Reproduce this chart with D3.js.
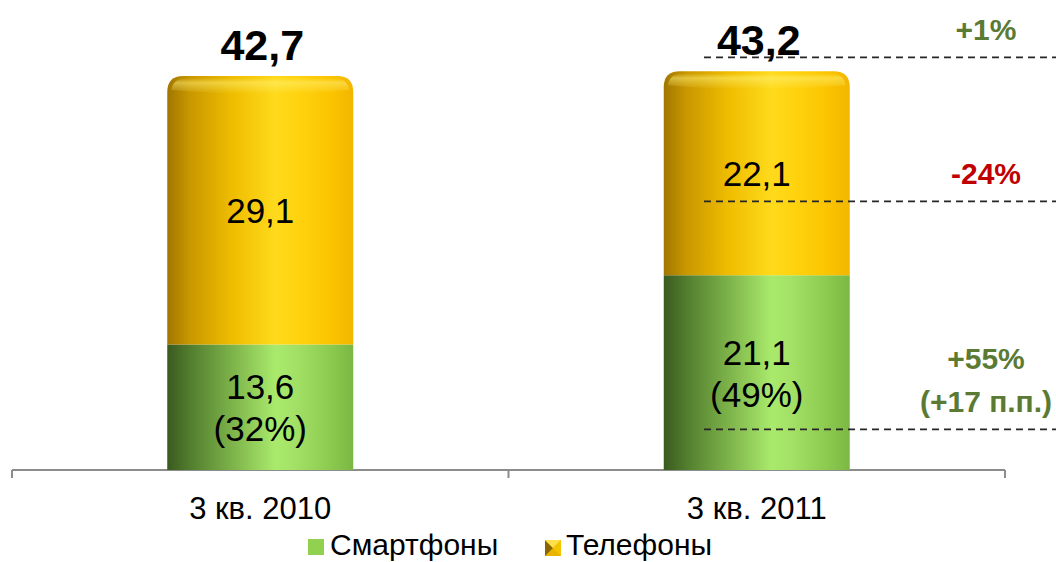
<!DOCTYPE html>
<html>
<head>
<meta charset="utf-8">
<script src="https://cdn.jsdelivr.net/npm/d3@7"></script>
<style>
  body { margin: 0; background: #fff; }
  svg { display: block; font-family: "Liberation Sans", Arial, sans-serif; }
</style>
</head>
<body>
<svg width="1056" height="562"></svg>
<script>
// data
const categories = ["3 кв. 2010", "3 кв. 2011"];
const smartphones = [13.6, 21.1];
const phones = [29.1, 22.1];
const totals = ["42,7", "43,2"];
const smartLabels = [["13,6", "(32%)"], ["21,1", "(49%)"]];
const phoneLabels = ["29,1", "22,1"];
const seriesNames = ["Смартфоны", "Телефоны"];
const guideLevels = [44.7, 29.1, 4.4];
const notes = [
  {lines: ["+1%"], color: "#5b7a34"},
  {lines: ["-24%"], color: "#c00000"},
  {lines: ["+55%", "(+17 п.п.)"], color: "#5b7a34"}
];

const svg = d3.select("svg");
const base = 470;

const x = d3.scaleBand().domain(categories).range([12, 1005]).padding(0);
const y = d3.scaleLinear().domain([0, 50]).range([base, base - 50 * 9.23]);
const barW = 186;

const defs = svg.append("defs");
function hgrad(id, stops) {
  const g = defs.append("linearGradient").attr("id", id)
    .attr("x1", "0%").attr("x2", "100%").attr("y1", "0%").attr("y2", "0%");
  stops.forEach(s => g.append("stop").attr("offset", s[0]).attr("stop-color", s[1]));
}
hgrad("gGreen", [["0%", "#3a5a1f"], ["12%", "#517d2e"], ["35%", "#7db34a"], ["58%", "#a9ea6c"], ["70%", "#a2e065"], ["88%", "#8cc94f"], ["100%", "#7ab843"]]);
hgrad("gYellow", [["0%", "#a07600"], ["12%", "#c99700"], ["35%", "#efbd00"], ["58%", "#ffda1c"], ["70%", "#ffd30f"], ["88%", "#fbc400"], ["100%", "#f2b600"]]);
const cap = defs.append("linearGradient").attr("id", "gCap")
  .attr("x1", "0").attr("x2", "0").attr("y1", "0").attr("y2", "1");
cap.append("stop").attr("offset", "0%").attr("stop-color", "#fff27a").attr("stop-opacity", 0.0);
cap.append("stop").attr("offset", "30%").attr("stop-color", "#fff27a").attr("stop-opacity", 0.5);
cap.append("stop").attr("offset", "100%").attr("stop-color", "#fff27a").attr("stop-opacity", 0);

const cx = c => x(c) + x.bandwidth() / 2;

// axis
const axis = svg.append("g").attr("transform", `translate(0,${base})`)
  .call(d3.axisBottom(x).tickSize(0).tickFormat(""));
axis.select(".domain").remove();
axis.append("line").attr("x1", 12).attr("x2", 1005).attr("stroke", "#8c8c8c").attr("stroke-width", 2);
[12, x(categories[1]), 1005].forEach(t =>
  axis.append("line").attr("x1", t).attr("x2", t).attr("y1", 0).attr("y2", 8)
    .attr("stroke", "#8c8c8c").attr("stroke-width", 2));

// bars
categories.forEach((c, i) => {
  const x0 = cx(c) - barW / 2;
  const yS = y(smartphones[i]);
  const yT = y(smartphones[i] + phones[i]);
  svg.append("rect").attr("x", x0).attr("y", yS).attr("width", barW).attr("height", base - yS)
    .attr("fill", "url(#gGreen)");
  const r = 16;
  svg.append("path")
    .attr("d", `M${x0},${yS} V${yT + r} Q${x0},${yT} ${x0 + r},${yT} H${x0 + barW - r} Q${x0 + barW},${yT} ${x0 + barW},${yT + r} V${yS} Z`)
    .attr("fill", "url(#gYellow)");
  svg.append("path")
    .attr("d", `M${x0 + 4},${yT + 14} Q${x0 + 6},${yT + 2} ${x0 + r + 4},${yT + 2} H${x0 + barW - r - 4} Q${x0 + barW - 6},${yT + 2} ${x0 + barW - 4},${yT + 14} Q${cx(c)},${yT + 22} ${x0 + 4},${yT + 14} Z`)
    .attr("fill", "url(#gCap)");

  // labels
  svg.append("text").attr("x", cx(c)).attr("y", (yT + yS) / 2 + 13)
    .attr("text-anchor", "middle").attr("font-size", 35).attr("fill", "#000").text(phoneLabels[i]);
  const mid = (yS + base) / 2;
  smartLabels[i].forEach((t, k) =>
    svg.append("text").attr("x", cx(c)).attr("y", mid - 8 + k * 42)
      .attr("text-anchor", "middle").attr("font-size", 35).attr("fill", "#000").text(t));
  svg.append("text").attr("x", cx(c) + 2).attr("y", yT - 16)
    .attr("text-anchor", "middle").attr("font-size", 43).attr("font-weight", "bold")
    .attr("fill", "#000").text(totals[i]);
  svg.append("text").attr("x", cx(c)).attr("y", base + 49)
    .attr("text-anchor", "middle").attr("font-size", 31).attr("fill", "#000").text(c);
});

// guides + notes
guideLevels.forEach((v, i) => {
  svg.append("line").attr("x1", 704).attr("x2", 1056).attr("y1", y(v)).attr("y2", y(v))
    .attr("stroke", "#262626").attr("stroke-width", 1.6).attr("stroke-dasharray", "7,5");
  const n = notes[i];
  n.lines.forEach((t, k) =>
    svg.append("text").attr("x", 986).attr("y", y(v) - 17 - (n.lines.length - 1 - k) * 43)
      .attr("text-anchor", "middle").attr("font-size", 30).attr("font-weight", "bold")
      .attr("fill", n.color).text(t));
});

// legend
const lg = svg.append("g");
lg.append("rect").attr("x", 308).attr("y", 539).attr("width", 16).attr("height", 16).attr("fill", "#92d050");
lg.append("text").attr("x", 330).attr("y", 555).attr("font-size", 30).attr("fill", "#000").text(seriesNames[0]);
const mx = 545, my = 540, ms = 16;
lg.append("rect").attr("x", mx).attr("y", my).attr("width", ms).attr("height", ms).attr("fill", "#e8b400");
lg.append("path").attr("d", `M${mx},${my} L${mx + ms / 2},${my + ms / 2} L${mx},${my + ms} Z`).attr("fill", "#8a6500");
lg.append("path").attr("d", `M${mx},${my} L${mx + ms},${my} L${mx + ms / 2},${my + ms / 2} Z`).attr("fill", "#ffe04a");
lg.append("path").attr("d", `M${mx + ms},${my} L${mx + ms},${my + ms} L${mx + ms / 2},${my + ms / 2} Z`).attr("fill", "#f5c400");
lg.append("text").attr("x", 566).attr("y", 555).attr("font-size", 30).attr("fill", "#000").text(seriesNames[1]);
</script>
</body>
</html>
